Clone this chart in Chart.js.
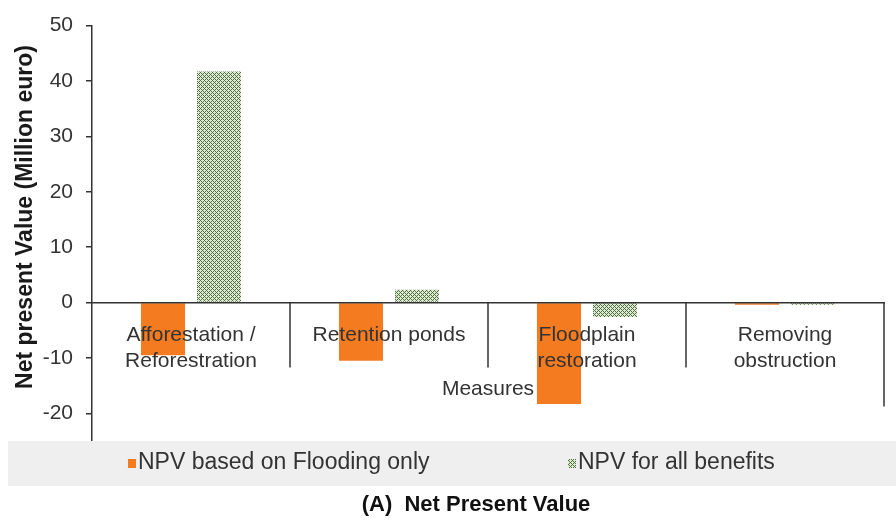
<!DOCTYPE html>
<html>
<head>
<meta charset="utf-8">
<script src="https://cdn.jsdelivr.net/npm/chart.js@4.4.0/dist/chart.umd.min.js"></script>
<style>
  html, body { margin: 0; padding: 0; background: #ffffff; }
  #wrap { width: 896px; height: 520px; position: relative; }
</style>
</head>
<body>
<div id="wrap"><canvas id="c" width="896" height="520"></canvas></div>
<script>
// ---- data ----
const categories = [["Afforestation /", "Reforestration"], "Retention ponds", ["Floodplain", "restoration"], ["Removing", "obstruction"]];
const floodingOnly = [-9.5, -10.5, -18.3, -0.4];
const allBenefits = [41.7, 2.3, -2.6, -0.4];
const seriesNames = ["NPV based on Flooding only", "NPV for all benefits"];
const yTicks = [50, 40, 30, 20, 10, 0, -10, -20];
const yTitle = "Net present Value (Million euro)";
const xTitle = "Measures";
const chartTitle = "(A)  Net Present Value";

// ---- styles ----
const FONT = "'Liberation Sans', Arial, sans-serif";
const ORANGE = "#f47b20";
const TEXT = "#333333";

function makePattern() {
  const t = document.createElement("canvas");
  t.width = 4; t.height = 4;
  const g = t.getContext("2d");
  g.fillStyle = "#dfe8d2";
  g.fillRect(0, 0, 4, 4);
  g.fillStyle = "#4f7245";
  for (let x = 0; x < 4; x++) {
    for (let y = 0; y < 4; y++) {
      if ((x + y) % 4 === 0 || ((x - y) + 4) % 4 === 0) g.fillRect(x, y, 1, 1);
    }
  }
  return document.getElementById("c").getContext("2d").createPattern(t, "repeat");
}
const GREEN_PAT = makePattern();

const extras = {
  id: "extras",
  afterDatasetsDraw(chart) {
    const ctx = chart.ctx;
    const xs = chart.scales.x, ys = chart.scales.y;
    const y0 = ys.getPixelForValue(0);
    ctx.save();
    ctx.strokeStyle = TEXT;
    ctx.lineWidth = 1.5;
    const n = categories.length;
    for (let i = 0; i < n; i++) {
      let bx, len;
      if (i < n - 1) {
        bx = (xs.getPixelForValue(i) + xs.getPixelForValue(i + 1)) / 2;
        len = 65;
      } else {
        bx = chart.chartArea.right;
        len = 104;
      }
      ctx.beginPath();
      ctx.moveTo(bx, y0);
      ctx.lineTo(bx, y0 + len);
      ctx.stroke();
    }
    ctx.restore();
  },
  afterDraw(chart) {
    const ctx = chart.ctx;
    const ca = chart.chartArea;
    ctx.save();
    // x axis title
    ctx.fillStyle = TEXT;
    ctx.font = "21px " + FONT;
    ctx.textAlign = "center";
    ctx.textBaseline = "middle";
    ctx.fillText(xTitle, (ca.left + ca.right) / 2, 389);
    // y axis title
    ctx.save();
    ctx.translate(26, 217);
    ctx.rotate(-Math.PI / 2);
    ctx.font = "bold 23px " + FONT;
    ctx.fillStyle = "#1a1a1a";
    ctx.fillText(yTitle, 0, 0);
    ctx.restore();
    // legend band
    ctx.fillStyle = "#efefef";
    ctx.fillRect(8, ca.bottom, 888, 45);
    const ly = ca.bottom + 22;
    const items = chart.data.datasets;
    const pos = [128, 568];
    ctx.font = "23px " + FONT;
    ctx.textAlign = "left";
    ctx.textBaseline = "middle";
    items.forEach((ds, i) => {
      ctx.fillStyle = ds.backgroundColor;
      ctx.fillRect(pos[i], ly - 4, 8, 9);
      ctx.fillStyle = TEXT;
      ctx.fillText(ds.label, pos[i] + 10, ly);
    });
    // chart title
    ctx.font = "bold 22px " + FONT;
    ctx.fillStyle = "#111111";
    ctx.textAlign = "center";
    ctx.fillText(chartTitle, 476, 505);
    ctx.restore();
  }
};

new Chart(document.getElementById("c"), {
  type: "bar",
  data: {
    labels: categories,
    datasets: [
      { label: seriesNames[0], data: floodingOnly, backgroundColor: ORANGE, borderWidth: 0 },
      { label: seriesNames[1], data: allBenefits, backgroundColor: GREEN_PAT, borderWidth: 0 }
    ]
  },
  options: {
    responsive: false,
    animation: false,
    devicePixelRatio: 1,
    layout: { padding: { top: 22, right: 12, bottom: 79, left: 0 } },
    categoryPercentage: 0.566,
    barPercentage: 0.786,
    plugins: {
      legend: { display: false },
      title: { display: false },
      tooltip: { enabled: false }
    },
    scales: {
      x: {
        position: { y: 0 },
        grid: { display: false },
        border: { display: true, color: TEXT, width: 1.5, z: 1 },
        ticks: {
          z: 1,
          color: TEXT,
          font: { family: FONT, size: 21, lineHeight: 1.24 },
          padding: 12,
          maxRotation: 0,
          autoSkip: false
        }
      },
      y: {
        min: -25,
        max: 50,
        afterFit(scale) { scale.width = 92; },
        afterBuildTicks(scale) {
          scale.ticks = yTicks.map(v => ({ value: v }));
        },
        grid: { display: true, drawOnChartArea: false, drawTicks: true, tickLength: 6, color: TEXT, lineWidth: 1.5 },
        border: { display: true, color: TEXT, width: 1.5 },
        ticks: {
          color: TEXT,
          font: { family: FONT, size: 21 },
          padding: 13,
          callback: v => String(v)
        }
      }
    }
  },
  plugins: [extras]
});
</script>
</body>
</html>
